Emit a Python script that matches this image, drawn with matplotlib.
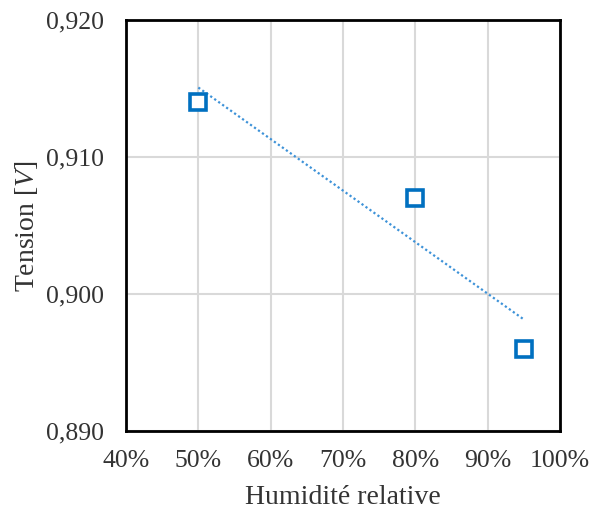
import matplotlib
matplotlib.use("Agg")
import matplotlib.pyplot as plt
from matplotlib.ticker import FuncFormatter
import numpy as np

humidity = [0.50, 0.80, 0.95]
tension = [0.914, 0.907, 0.896]
x_ticks = [0.4, 0.5, 0.6, 0.7, 0.8, 0.9, 1.0]
y_ticks = [0.890, 0.900, 0.910, 0.920]

plt.rcParams['font.family'] = ['Liberation Serif', 'DejaVu Serif']
plt.rcParams['mathtext.fontset'] = 'custom'
plt.rcParams['mathtext.it'] = 'Liberation Serif:italic'
plt.rcParams['mathtext.rm'] = 'Liberation Serif'

blue = '#0070C0'
txt = '#333333'
W, H = 590, 512
fig = plt.figure(figsize=(5.9, 5.12), dpi=100)
ax = fig.add_axes([126/W, 1-431/H, (560-126)/W, (431-20)/H])

ax.set_xlim(0.4, 1.0)
ax.set_ylim(0.890, 0.920)
ax.set_xticks(x_ticks)
ax.set_yticks(y_ticks)
ax.grid(True, color='#d9d9d9', linewidth=1.5)
ax.set_axisbelow(True)

coef = np.polyfit(humidity, tension, 1)
xs = np.array([min(humidity), max(humidity)])
ax.plot(xs, np.polyval(coef, xs), linestyle=(0, (1, 1.2)), color='#3d92d8', linewidth=1.6, zorder=2)
ax.plot(humidity, tension, linestyle='none', marker='s', markersize=12,
        markerfacecolor='white', markeredgecolor=blue, markeredgewidth=2.6, zorder=3)

ax.xaxis.set_major_formatter(FuncFormatter(lambda v, p: f"{round(v*100):d}%"))
ax.yaxis.set_major_formatter(FuncFormatter(lambda v, p: f"{v:.3f}".replace('.', ',')))
ax.tick_params(length=0, labelsize=18.5, colors=txt)
ax.tick_params(axis='x', pad=14)
ax.tick_params(axis='y', pad=16)
for s in ax.spines.values():
    s.set_color('black')
    s.set_linewidth(2)

fig.text(((126+560)/2)/W, 1-498/H, 'Humidité relative', fontsize=20, color=txt,
         ha='center', va='center')
fig.text(27/W, 1-226/H, 'Tension [$V$]', fontsize=20, color=txt,
         ha='center', va='center', rotation=90)

fig.savefig('out.png', dpi=100, facecolor='white')
